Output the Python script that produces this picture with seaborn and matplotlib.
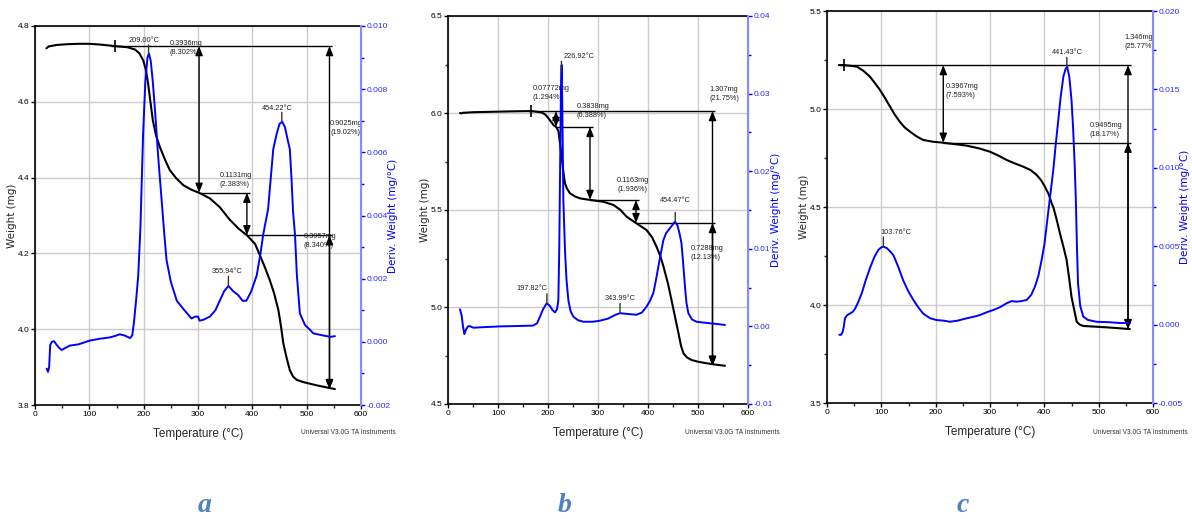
import numpy as np
import matplotlib.pyplot as plt
import seaborn as sns
from matplotlib.ticker import MultipleLocator, FormatStrFormatter

# ---------------- panel a ----------------
temp_a = [21, 25, 40, 60, 80, 100, 120, 147, 170, 184, 192, 199, 204, 208, 212, 217,
          223, 230, 240, 248, 260, 273, 288, 302, 322, 340, 359, 375, 390, 405, 414,
          424, 432, 440, 448, 453, 457, 463, 469, 475, 482, 495, 518, 535, 552]
weight_a = [4.741, 4.746, 4.750, 4.752, 4.753, 4.753, 4.751, 4.747, 4.744, 4.738, 4.728,
            4.710, 4.685, 4.650, 4.605, 4.550, 4.510, 4.480, 4.445, 4.420, 4.398, 4.380,
            4.368, 4.360, 4.345, 4.322, 4.288, 4.265, 4.248, 4.225, 4.195, 4.160, 4.130,
            4.095, 4.050, 4.005, 3.963, 3.925, 3.892, 3.875, 3.866, 3.860, 3.852, 3.847,
            3.842]
dtg_temp_a = [21.5, 24, 26, 28, 31, 35, 40, 45, 49, 55, 64, 80, 101, 120, 138, 150, 156,
              165, 175, 179, 182, 186, 190, 194, 199, 203, 207, 209.8, 213, 217, 221, 227,
              233, 238, 242, 250, 261, 275, 288, 295, 300, 303, 310, 322, 332, 340, 348,
              356, 365, 374, 382, 389, 398, 408, 415, 420, 429, 434, 438.5, 445, 450, 455,
              460, 465, 469, 472, 475, 478.5, 482, 487.5, 497, 505, 512, 525, 537, 545, 552]
dtg_a = [-0.00085, -0.00095, -0.0008, -0.0001, 0.0000, 0.00002, -0.0001, -0.0002, -0.00026,
         -0.0002, -0.00012, -0.00008, 0.00004, 0.0001, 0.00014, 0.0002, 0.00024, 0.0002,
         0.00012, 0.0002, 0.0006, 0.0013, 0.0021, 0.0036, 0.0066, 0.0082, 0.0090, 0.00913,
         0.0089, 0.0082, 0.0073, 0.0058, 0.0045, 0.0034, 0.0026, 0.0019, 0.0013, 0.0010,
         0.00074, 0.0008, 0.0008, 0.00067, 0.0007, 0.0008, 0.0010, 0.0013, 0.0016, 0.00177,
         0.0016, 0.00148, 0.0013, 0.0013, 0.0016, 0.0021, 0.0028, 0.0034, 0.0042, 0.0052,
         0.0061, 0.0066, 0.0069, 0.00697, 0.0068, 0.0064, 0.0061, 0.0052, 0.0041, 0.0034,
         0.0021, 0.0009, 0.00053, 0.0004, 0.00027, 0.00022, 0.00018, 0.00016, 0.00018]
peaks_a = [209.00, 355.94, 454.22]
bounds_a = [147, 302, 390]
total_a = 542
steps_a = ["0.3936mg\n(8.302%)", "0.1131mg\n(2.383%)", "0.3957mg\n(8.340%)", "0.9025mg\n(19.02%)"]

# ---------------- panel b ----------------
temp_b = [24, 27, 30, 50, 100, 140, 167, 185, 191, 196, 201, 206, 211, 217, 221, 224,
          226.5, 228.7, 231, 234, 238, 244, 254, 264, 284, 310, 331, 345, 357, 377, 397,
          408, 417, 425, 431, 440, 447, 454, 461, 466, 471, 478, 487, 500, 517, 535, 554]
weight_b = [6.000, 5.998, 6.001, 6.004, 6.007, 6.009, 6.010, 6.004, 5.998, 5.988, 5.973,
            5.955, 5.938, 5.926, 5.905, 5.844, 5.790, 5.741, 5.690, 5.638, 5.610, 5.586,
            5.570, 5.560, 5.552, 5.543, 5.526, 5.500, 5.466, 5.431, 5.397, 5.360, 5.311,
            5.260, 5.208, 5.120, 5.036, 4.950, 4.864, 4.800, 4.761, 4.740, 4.727, 4.718,
            4.710, 4.703, 4.697]
dtg_temp_b = [24, 27, 30, 32.7, 36, 40.7, 45, 50.7, 70, 104, 140, 170, 178, 184, 190, 197.3,
              203, 209, 214, 218, 220.7, 222.5, 224.5, 226, 227.3, 228.5, 230.7, 234, 237,
              240.7, 245, 250.7, 260, 270.7, 290, 304, 320, 335, 344, 360, 377, 388, 397,
              404, 410.7, 416, 420.7, 426, 430.7, 436, 440.7, 448, 454, 459, 463, 467,
              470.5, 474, 477, 480.7, 488, 497, 510, 524, 540, 554]
dtg_b = [0.0022, 0.0015, 0.0000, -0.0010, -0.0004, 0.00005, 0.0000, -0.00017, -0.0001,
         0.0000, 0.00005, 0.0001, 0.0004, 0.00125, 0.0022, 0.00297, 0.0027, 0.0021, 0.0018,
         0.0022, 0.0034, 0.010, 0.022, 0.031, 0.0337, 0.029, 0.0163, 0.0098, 0.0060, 0.0034,
         0.0020, 0.00125, 0.0008, 0.0006, 0.0006, 0.00074, 0.0010, 0.0015, 0.0017, 0.0016,
         0.0015, 0.0018, 0.00254, 0.0033, 0.0043, 0.0060, 0.0077, 0.0095, 0.0111, 0.0120,
         0.0124, 0.0130, 0.0135, 0.0130, 0.0120, 0.0107, 0.0080, 0.0051, 0.0030, 0.0017,
         0.0009, 0.0006, 0.0005, 0.0004, 0.0003, 0.00018]
peaks_b = [197.82, 226.92, 343.99, 454.47]
bounds_b = [166, 216, 284, 376]
total_b = 529
steps_b = ["0.07772mg\n(1.294%)", "0.3838mg\n(6.388%)", "0.1163mg\n(1.936%)",
           "0.7288mg\n(12.13%)", "1.307mg\n(21.75%)"]

# ---------------- panel c ----------------
temp_c = [22, 31, 45, 55, 67, 79, 88, 97.5, 107, 116, 125, 134, 143, 153, 165, 177, 195,
          214, 235, 257, 280, 300, 315, 330.6, 345, 361, 375, 386, 394, 401, 408, 413.5,
          417, 423, 428.7, 435, 441, 446, 450, 455, 459.5, 465, 471.7, 490, 514.6, 535, 557.5]
weight_c = [5.224, 5.224, 5.220, 5.216, 5.195, 5.165, 5.133, 5.097, 5.055, 5.012, 4.970,
            4.935, 4.906, 4.884, 4.860, 4.842, 4.833, 4.828, 4.821, 4.813, 4.799, 4.782,
            4.763, 4.740, 4.723, 4.706, 4.688, 4.663, 4.637, 4.604, 4.565, 4.519, 4.495,
            4.432, 4.366, 4.298, 4.230, 4.130, 4.042, 3.975, 3.915, 3.900, 3.893, 3.890,
            3.886, 3.882, 3.877]
dtg_temp_c = [22.7, 26, 29, 31, 33, 37, 42, 47, 51.5, 57, 64, 71, 79, 87, 94.4, 100, 104,
              110, 116, 122, 131, 140, 150, 159, 168, 177, 190, 202, 215, 226, 240, 257, 270,
              281.5, 295, 306, 318, 330.6, 340, 349, 358, 367.5, 376, 382.7, 389, 395, 400,
              404, 410, 416.5, 421, 425.7, 430, 435, 439, 442, 446, 450, 453, 456, 458, 460,
              462, 466, 471.7, 480, 496, 520, 540, 557.5]
dtg_c = [-0.00065, -0.00065, -0.00045, -0.0001, 0.0004, 0.0006, 0.0007, 0.0008, 0.0010,
         0.0014, 0.0020, 0.0028, 0.0036, 0.0043, 0.00476, 0.00493, 0.00497, 0.00488,
         0.00468, 0.00444, 0.0037, 0.00284, 0.0021, 0.00157, 0.0011, 0.0007, 0.0004,
         0.00029, 0.00025, 0.00018, 0.00025, 0.0004, 0.0005, 0.00061, 0.0008, 0.00093,
         0.0011, 0.00136, 0.0015, 0.00146, 0.0015, 0.00157, 0.0019, 0.00242, 0.0031,
         0.00412, 0.0051, 0.00624, 0.0080, 0.00986, 0.0115, 0.01305, 0.0145, 0.01581,
         0.0163, 0.01645, 0.0158, 0.01433, 0.0125, 0.01007, 0.00795, 0.0050, 0.00264,
         0.0012, 0.00051, 0.0003, 0.00018, 0.00015, 0.0001, 0.0001]
peaks_c = [103.76, 441.43]
bounds_c = [31, 214]
total_c = 554
steps_c = ["0.3967mg\n(7.593%)", "0.9495mg\n(18.17%)", "1.346mg\n(25.77%)"]

panel_letters = ["a", "b", "c"]

sns.set_style("ticks")
SANS = ["Liberation Sans Narrow", "Liberation Sans", "DejaVu Sans"]
plt.rcParams["font.family"] = SANS
BLUE = "#0000ff"
GRID = "#cccccc"

fig = plt.figure(figsize=(11.92, 5.19), dpi=100)
W, H = 1192, 519


def make_axes(left, top, right, bottom):
    return fig.add_axes([left / W, 1 - bottom / H, (right - left) / W, (bottom - top) / H])


def style_axes(ax, ax2, wlim, wstep, wminor, dlim, dstep, dminor, dfmt, px):
    ax.set_xlim(0, 600)
    ax.set_ylim(*wlim)
    ax2.set_ylim(*dlim)
    ax.xaxis.set_major_locator(MultipleLocator(100))
    ax.xaxis.set_minor_locator(MultipleLocator(50))
    ax.yaxis.set_major_locator(MultipleLocator(wstep))
    if wminor:
        ax.yaxis.set_minor_locator(MultipleLocator(wminor))
    ax.yaxis.set_major_formatter(FormatStrFormatter("%.1f"))
    ax2.yaxis.set_major_locator(MultipleLocator(dstep))
    ax2.yaxis.set_minor_locator(MultipleLocator(dminor))
    ax2.yaxis.set_major_formatter(FormatStrFormatter(dfmt))
    ax.grid(True, which="major", color=GRID, lw=1.0)
    ax2.grid(False)
    for a in (ax, ax2):
        a.tick_params(which="major", direction="out", length=3, width=1, labelsize=6, pad=1.2)
        a.tick_params(which="minor", direction="out", length=2, width=1)
    ax.tick_params(axis="both", colors="black")
    ax2.tick_params(axis="y", which="both", colors=BLUE, labelcolor="#2a2aff")
    for s in ("left", "bottom", "top"):
        ax.spines[s].set_color("black")
        ax.spines[s].set_linewidth(1.2)
    ax2.spines["right"].set_color("#8a8aff")
    ax2.spines["right"].set_linewidth(1.5)
    for s in ("left", "bottom", "top"):
        ax2.spines[s].set_visible(False)
    ax.set_xlabel("Temperature (°C)", fontsize=8.5)
    ax.xaxis.set_label_coords(0.5, -23 / px)
    ax.set_ylabel("Weight (mg)", fontsize=7.5, family="DejaVu Sans")
    ax2.set_ylabel("Deriv. Weight (mg/°C)", fontsize=7.5, family="DejaVu Sans", color=BLUE)


def draw_curves(ax, ax2, temp, weight, dtg_temp, dtg):
    sns.lineplot(x=temp, y=weight, ax=ax, color="black", lw=1.5, sort=False, estimator=None)
    sns.lineplot(x=dtg_temp, y=dtg, ax=ax2, color=BLUE, lw=1.4, sort=False, estimator=None)


def draw_steps(ax, temp, weight, bounds, total):
    levels = [float(np.interp(b, temp, weight)) for b in bounds]
    final = weight[-1]
    arrow = dict(arrowstyle="<|-|>,head_length=0.55,head_width=0.22", color="black",
                 lw=1.0, shrinkA=0, shrinkB=0, mutation_scale=10)
    ax.plot([bounds[0]], [levels[0]], marker="|", ms=9, mew=1.2, color="black")
    ax.hlines(levels[0], bounds[0] - 7, total + 5, color="black", lw=1.0)
    for i in range(1, len(bounds)):
        ax.annotate("", xy=(bounds[i], levels[i]), xytext=(bounds[i], levels[i - 1]),
                    arrowprops=arrow)
        end = bounds[i + 1] + 6 if i + 1 < len(bounds) else total + 5
        ax.hlines(levels[i], bounds[i], end, color="black", lw=1.0)
    ax.annotate("", xy=(total, final), xytext=(total, levels[-1]), arrowprops=arrow)
    ax.annotate("", xy=(total, final), xytext=(total, levels[0]), arrowprops=arrow)


def draw_peaks(ax2, dtg_temp, dtg, peaks, shifts, lifts):
    for p, dx, dy in zip(peaks, shifts, lifts):
        y = float(np.interp(p, dtg_temp, dtg))
        ax2.annotate("", xy=(p, y), xytext=(0, 7), textcoords="offset points",
                     xycoords="data",
                     arrowprops=dict(arrowstyle="-", color="#333333", lw=1.0,
                                     shrinkA=0, shrinkB=0))
        ax2.annotate(f"{p:.2f}°C", xy=(p, y), xytext=(dx, dy), textcoords="offset points",
                     ha="center", va="bottom", fontsize=5.3, color="#222222")


def step_text(ax, x, y, s):
    ax.text(x, y, s, fontsize=5.3, color="#222222", va="top", ha="left", linespacing=1.45)


# ---- panel a ----
axa = make_axes(35, 26, 361, 405)
axa2 = axa.twinx()
draw_curves(axa, axa2, temp_a, weight_a, dtg_temp_a, dtg_a)
style_axes(axa, axa2, (3.8, 4.8), 0.2, None, (-0.002, 0.010), 0.002, 0.001, "%.3f", 379)
draw_steps(axa, temp_a, weight_a, bounds_a, total_a)
draw_peaks(axa2, dtg_temp_a, dtg_a, peaks_a, [-3, -1, -3], [8, 8, 7])
step_text(axa, 248, 4.763, steps_a[0])
step_text(axa, 340, 4.415, steps_a[1])
step_text(axa, 494, 4.254, steps_a[2])
step_text(axa, 543, 4.552, steps_a[3])
axa.yaxis.set_label_coords(-18 / 326, 0.5)
axa2.yaxis.set_label_coords(1 + 27 / 326, 0.5)

# ---- panel b ----
axb = make_axes(448, 16, 748, 404)
axb2 = axb.twinx()
draw_curves(axb, axb2, temp_b, weight_b, dtg_temp_b, dtg_b)
style_axes(axb, axb2, (4.5, 6.5), 0.5, 0.25, (-0.01, 0.04), 0.01, 0.005, "%.2f", 388)
draw_steps(axb, temp_b, weight_b, bounds_b, total_b)
draw_peaks(axb2, dtg_temp_b, dtg_b, peaks_b, [-11, 13, 0, 0], [8, 8, 8, 13])
step_text(axb, 169, 6.144, steps_b[0])
step_text(axb, 257, 6.052, steps_b[1])
step_text(axb, 338, 5.670, steps_b[2])
step_text(axb, 485, 5.320, steps_b[3])
step_text(axb, 522, 6.139, steps_b[4])
axb.yaxis.set_label_coords(-18 / 300, 0.5)
axb2.yaxis.set_label_coords(1 + 23 / 300, 0.5)

# ---- panel c ----
axc = make_axes(827, 11, 1153, 403)
axc2 = axc.twinx()
draw_curves(axc, axc2, temp_c, weight_c, dtg_temp_c, dtg_c)
style_axes(axc, axc2, (3.5, 5.5), 0.5, 0.25, (-0.005, 0.020), 0.005, 0.0025, "%.3f", 392)
draw_steps(axc, temp_c, weight_c, bounds_c, total_c)
draw_peaks(axc2, dtg_temp_c, dtg_c, peaks_c, [9, 0], [8, 8])
step_text(axc, 219, 5.133, steps_c[0])
step_text(axc, 484, 4.934, steps_c[1])
step_text(axc, 547, 5.383, steps_c[2])
axc.yaxis.set_label_coords(-18 / 326, 0.5)
axc2.yaxis.set_label_coords(1 + 27 / 326, 0.5)

# footer text and panel letters
for xr in (396, 780, 1188):
    fig.text(xr / W, 1 - 432 / H, "Universal V3.0G TA Instruments", fontsize=4.8,
             ha="right", va="center", color="#333333")
for xc, letter in zip((205, 565, 963), panel_letters):
    fig.text(xc / W, 1 - 505 / H, letter, fontsize=20, style="italic", weight="bold",
             family=["Liberation Serif", "DejaVu Serif"], color="#4f81bd",
             ha="center", va="center")

fig.savefig("out.png", dpi=100)
plt.close(fig)
